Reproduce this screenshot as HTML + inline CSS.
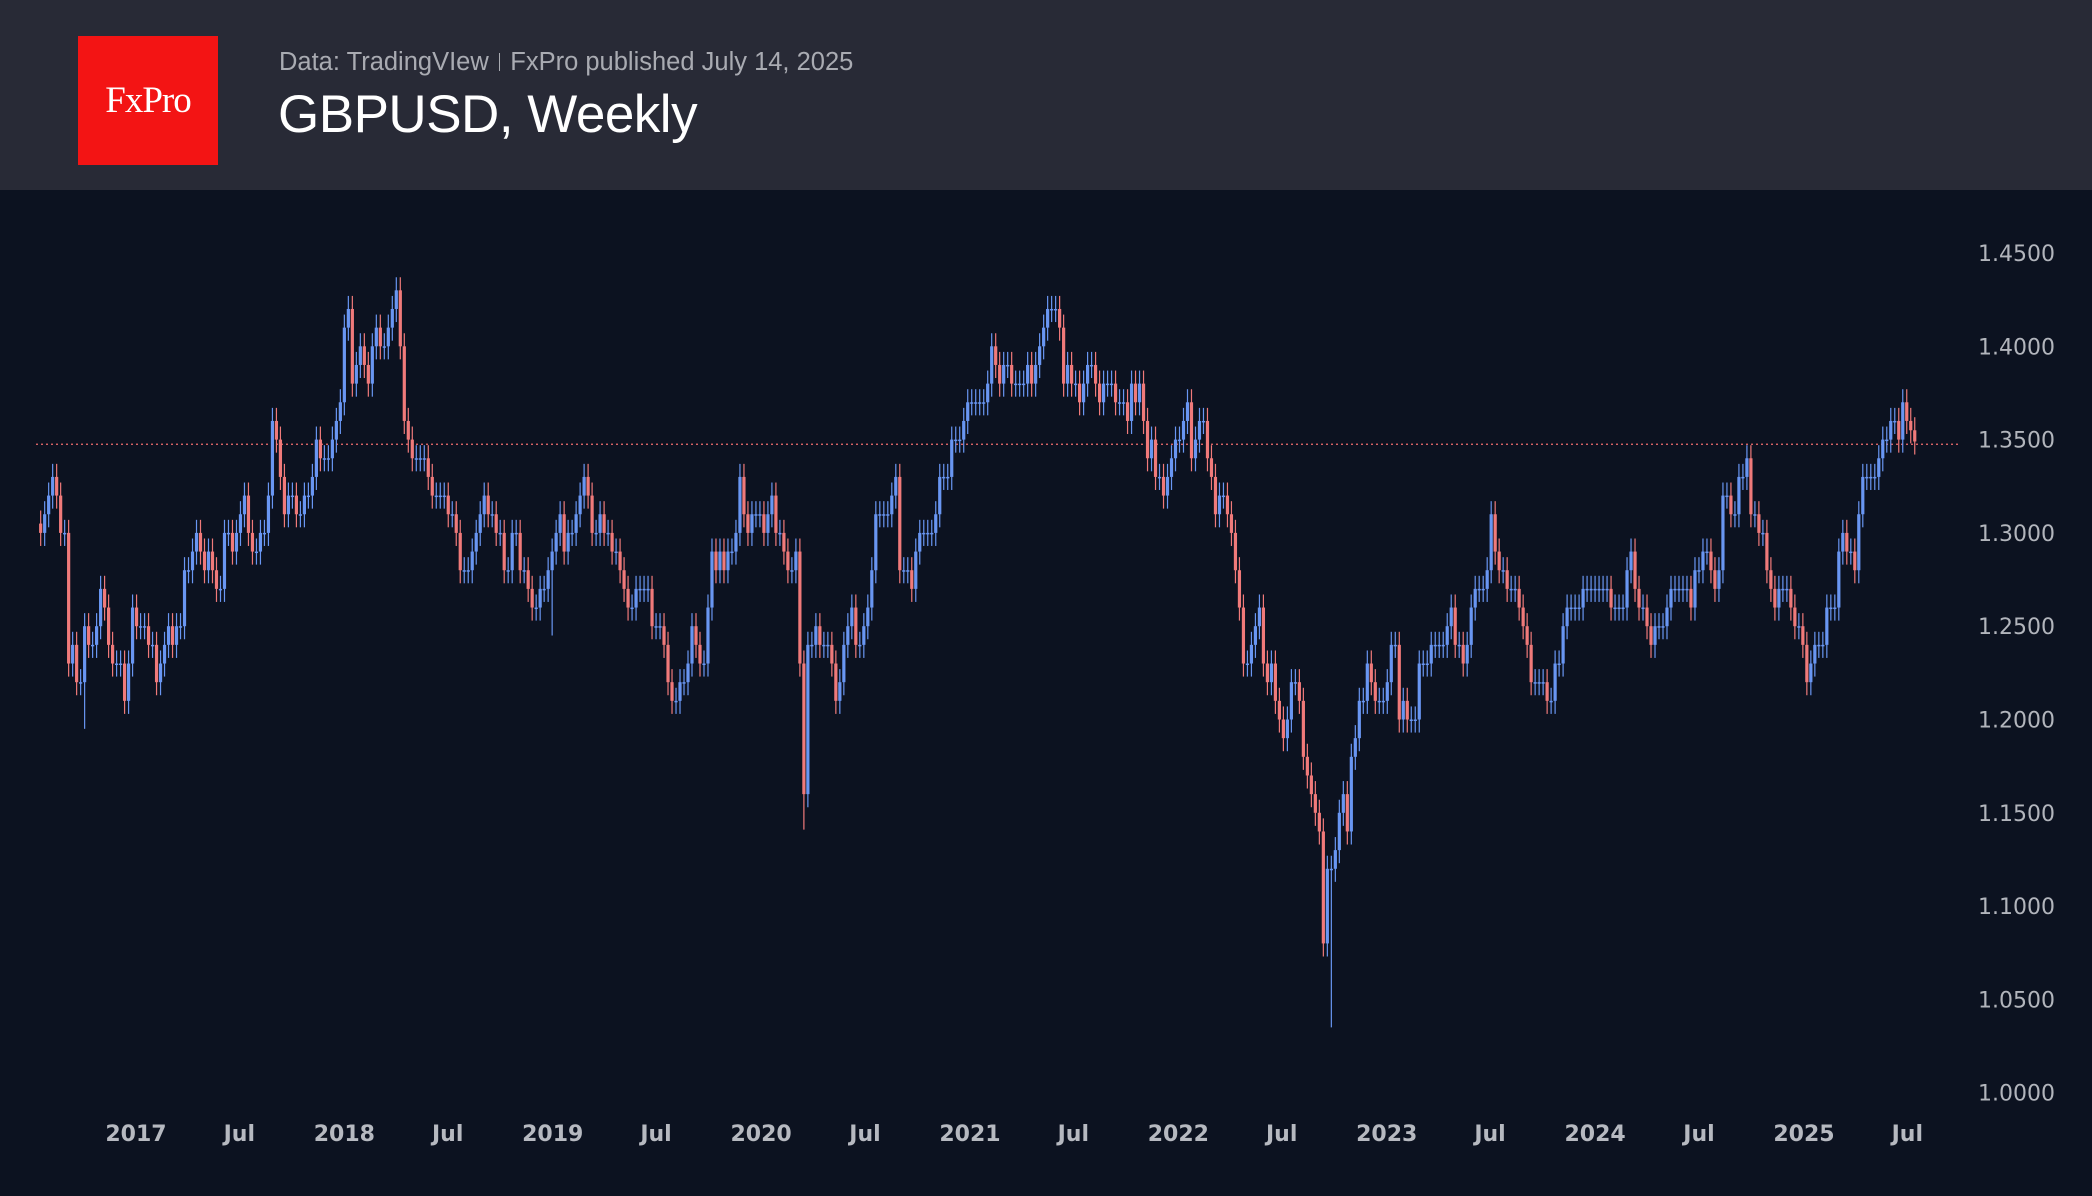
<!DOCTYPE html>
<html><head><meta charset="utf-8">
<style>
html,body{margin:0;padding:0;background:#0c1220;}
body{width:2092px;height:1196px;overflow:hidden;position:relative;font-family:"Liberation Sans",sans-serif;}
#header{position:absolute;left:0;top:0;width:2092px;height:190px;background:#282a36;}
#logo{position:absolute;left:78px;top:36px;width:140px;height:129px;background:#f31414;color:#fff;font-family:"Liberation Serif",serif;font-size:37px;display:flex;align-items:center;justify-content:center;letter-spacing:-1px;}
#sub{position:absolute;left:279px;top:48px;font-size:25.5px;color:#a9abb2;white-space:nowrap;}
#sub .sep{display:inline-block;width:1.5px;height:18px;background:#a9abb2;margin:0 10px;vertical-align:-1px;}
#title{position:absolute;left:278px;top:84px;font-size:53px;color:#fff;white-space:nowrap;letter-spacing:-0.5px;}
svg{position:absolute;left:0;top:0;}
</style></head><body>
<div id="header">
  <div id="logo">FxPro</div>
  <div id="sub">Data: TradingVIew<span class="sep"></span>FxPro published July 14, 2025</div>
  <div id="title">GBPUSD, Weekly</div>
</div>
<svg id="chart" width="2092" height="1196"></svg>
<script>
const closes = [
1.30,1.31,1.32, 1.33,1.32,1.30,1.30, 1.23,1.24,1.22,1.22, 1.25,1.24,1.24,1.25, 1.27,1.26,1.24,1.23,1.23,
1.23,1.21,1.23,1.26,1.25, 1.25,1.25,1.24,1.24, 1.22,1.23,1.24,1.25,1.24, 1.25,1.25,1.28,1.28, 1.29,1.30,1.29,1.28, 1.29,1.28,1.27,1.27,1.30, 1.30,1.29,1.30,1.31, 1.32,1.30,1.29,1.29,1.30, 1.30,1.32,1.36,1.35, 1.33,1.31,1.32,1.32,1.31, 1.31,1.32,1.32,1.33, 1.35,1.34,1.34,1.34,1.35,
1.36,1.37,1.41,1.42, 1.38,1.39,1.40,1.39, 1.38,1.40,1.41,1.40,1.40, 1.41,1.42,1.43,1.40, 1.36,1.35,1.34,1.34,1.34, 1.34,1.33,1.32,1.32, 1.32,1.32,1.31,1.31, 1.30,1.28,1.28,1.28,1.29, 1.30,1.31,1.32,1.31, 1.31,1.30,1.30,1.28, 1.28,1.30,1.30,1.28,1.28, 1.27,1.26,1.26,1.27,1.27,
1.28,1.29,1.30,1.31, 1.29,1.30,1.30,1.31, 1.32,1.33,1.32,1.30,1.30, 1.31,1.30,1.30,1.29, 1.29,1.28,1.27,1.26,1.26, 1.27,1.27,1.27,1.27, 1.25,1.25,1.25,1.24, 1.22,1.21,1.21,1.22,1.22, 1.23,1.25,1.24,1.23, 1.23,1.26,1.29,1.28, 1.29,1.28,1.29,1.29, 1.30,1.33,1.31,1.30,1.31,
1.31,1.31,1.30,1.31,1.32, 1.30,1.30,1.29,1.28, 1.28,1.29,1.23,1.16,1.24, 1.24,1.25,1.24,1.24, 1.24,1.23,1.21,1.22,1.24, 1.25,1.26,1.24,1.24, 1.25,1.26,1.28,1.31, 1.31,1.31,1.31,1.32,1.33, 1.28,1.28,1.28,1.27, 1.29,1.30,1.30,1.30, 1.30,1.31,1.33,1.33,1.33, 1.35,1.35,1.35,1.36,
1.37,1.37,1.37,1.37, 1.37,1.38,1.40,1.39, 1.38,1.39,1.39,1.38,1.38, 1.38,1.38,1.39,1.38, 1.39,1.40,1.41,1.42,1.42, 1.42,1.41,1.38,1.39, 1.38,1.38,1.37,1.38,1.39, 1.39,1.38,1.37,1.38, 1.38,1.38,1.37,1.37, 1.37,1.36,1.38,1.37,1.38, 1.36,1.34,1.35,1.33, 1.33,1.32,1.33,1.34,1.35,
1.35,1.36,1.37,1.34, 1.35,1.36,1.36,1.34, 1.33,1.31,1.32,1.32, 1.31,1.30,1.28,1.26, 1.23,1.23,1.24,1.25, 1.26,1.23,1.22,1.23,1.21, 1.20,1.19,1.20,1.22, 1.22,1.21,1.18,1.17, 1.16,1.15,1.14,1.08,1.12, 1.12,1.13,1.15,1.16, 1.14,1.18,1.19,1.21, 1.21,1.23,1.22,1.21,1.21,
1.21,1.22,1.24,1.24, 1.20,1.21,1.20,1.20, 1.20,1.23,1.23,1.23,1.24, 1.24,1.24,1.24,1.25, 1.26,1.24,1.24,1.23,1.24, 1.26,1.27,1.27,1.27, 1.28,1.31,1.29,1.28,1.28, 1.27,1.27,1.27,1.26, 1.25,1.24,1.22,1.22, 1.22,1.22,1.21,1.21,1.23, 1.23,1.25,1.26,1.26, 1.26,1.26,1.27,1.27,
1.27,1.27,1.27,1.27,1.27, 1.26,1.26,1.26,1.26, 1.28,1.29,1.27,1.26, 1.26,1.25,1.24,1.25,1.25, 1.25,1.26,1.27,1.27, 1.27,1.27,1.27,1.26, 1.28,1.28,1.29,1.29,1.28, 1.27,1.28,1.32,1.32, 1.31,1.31,1.33,1.33,1.34, 1.31,1.31,1.30,1.30, 1.28,1.27,1.26,1.27, 1.27,1.27,1.26,1.25,1.25,
1.24,1.22,1.23,1.24, 1.24,1.24,1.26,1.26, 1.26,1.29,1.30,1.29,1.29, 1.28,1.31,1.33,1.33, 1.33,1.33,1.34,1.35,1.35, 1.36,1.36,1.35,1.37, 1.36,1.355,1.349
];
const lowSpikeDates = ["2016-10-03","2019-01-02","2020-03-16","2022-09-26"];
const lowSpikeValues = [1.195,1.245,1.141,1.035];
const priceTicks = [1.45,1.40,1.35,1.30,1.25,1.20,1.15,1.10,1.05,1.00];
const timeTickLabels = ["2017","Jul","2018","Jul","2019","Jul","2020","Jul","2021","Jul","2022","Jul","2023","Jul","2024","Jul","2025","Jul"];
const timeTickDates = ["2017-01-01","2017-07-01","2018-01-01","2018-07-01","2019-01-01","2019-07-01","2020-01-01","2020-07-01","2021-01-01","2021-07-01","2022-01-01","2022-07-01","2023-01-01","2023-07-01","2024-01-01","2024-07-01","2025-01-01","2025-07-01"];
const lastDate = "2025-07-14";
const currentPrice = 1.3475;

const svg = document.getElementById('chart');
const NS = 'http://www.w3.org/2000/svg';
const DAY = 86400000, YEAR = 365.25*DAY;
const t0 = Date.parse("2017-01-01");
function xScale(d){ return 136 + (d - t0)/YEAR*208.5; }
function yScale(p){ return 253 + (1.45 - p)/0.05*93.3; }
function mk(tag, attrs){ const e=document.createElementNS(NS,tag); for(const k in attrs) e.setAttribute(k,attrs[k]); svg.appendChild(e); return e; }

const pl = mk('line',{x1:36,x2:1961,y1:yScale(currentPrice),y2:yScale(currentPrice),stroke:'#f26d6d','stroke-width':1.3,'stroke-dasharray':'2,3'});



const end = Date.parse(lastDate);
const n = closes.length;
const spikeTimes = lowSpikeDates.map(Date.parse);
for(let i=0;i<n;i++){
  const d = end - (n-1-i)*7*DAY;
  const c = closes[i];
  const o = i>0 ? closes[i-1] : c+0.005;
  const up = c>=o;
  const col = up ? '#6996f2' : '#f07a7a';
  let hi = Math.max(o,c)+0.007, lo = Math.min(o,c)-0.007;
  spikeTimes.forEach((st,k)=>{ if(Math.abs(st-d)<=3.5*DAY) lo = Math.min(lo, lowSpikeValues[k]); });
  const x = xScale(d);
  const g = document.createElementNS(NS,'g'); svg.appendChild(g);
  
  
  const w = document.createElementNS(NS,'line');
  w.setAttribute('x1',x);w.setAttribute('x2',x);w.setAttribute('y1',yScale(hi));w.setAttribute('y2',yScale(lo));
  w.setAttribute('stroke',col);w.setAttribute('stroke-width',1.2);
  g.appendChild(w);
  const b = document.createElementNS(NS,'rect');
  const yt = yScale(Math.max(o,c)), yb = yScale(Math.min(o,c));
  b.setAttribute('x',x-1.6);b.setAttribute('width',3.2);b.setAttribute('y',yt);b.setAttribute('height',Math.max(1.5,yb-yt));
  b.setAttribute('fill',col);
  g.appendChild(b);
}

priceTicks.forEach(p=>{
  const t = mk('text',{x:1978,y:yScale(p)+8,fill:'#b2b5bc','font-size':22,'font-family':'"DejaVu Sans","Liberation Sans",sans-serif'});
  t.textContent = p.toFixed(4);
  
  
});
timeTickLabels.forEach((lab,i)=>{
  const t = mk('text',{x:xScale(Date.parse(timeTickDates[i])),y:1141,fill:'#b6b9c0','font-size':22,'font-weight':'bold','text-anchor':'middle','font-family':'"DejaVu Sans","Liberation Sans",sans-serif'});
  t.textContent = lab;
  
  
});
</script>
</body></html>
